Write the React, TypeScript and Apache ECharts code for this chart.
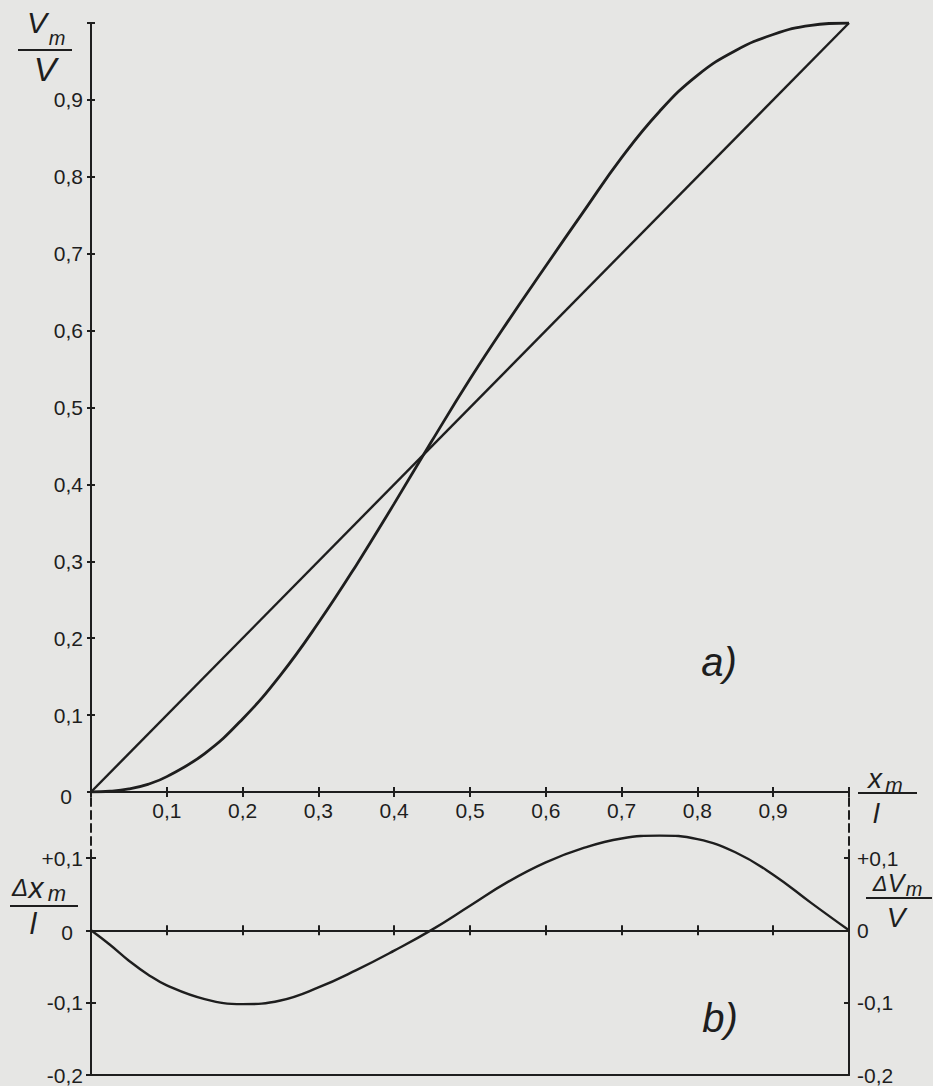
import React, { useEffect, useRef } from "react";
import * as echarts from "echarts";

// ---- data ----
const curveX = [0, 0.025, 0.05, 0.075, 0.1, 0.15, 0.2, 0.25, 0.3, 0.35, 0.4, 0.45, 0.5, 0.55, 0.6, 0.65, 0.7, 0.75, 0.8, 0.85, 0.9, 0.95, 1.0];
const vmCurve = [0, 0.001, 0.004, 0.01, 0.02, 0.05, 0.095, 0.152, 0.22, 0.295, 0.375, 0.457, 0.537, 0.612, 0.684, 0.755, 0.825, 0.885, 0.932, 0.964, 0.985, 0.997, 1.0];
const diagonalX = [0, 1];
const diagonalY = [0, 1];
const deltaCurve = [0, -0.02, -0.042, -0.061, -0.076, -0.095, -0.102, -0.097, -0.079, -0.055, -0.028, 0.001, 0.034, 0.067, 0.094, 0.114, 0.127, 0.131, 0.126, 0.108, 0.077, 0.038, 0];

const xTickLabels = ["", "0,1", "0,2", "0,3", "0,4", "0,5", "0,6", "0,7", "0,8", "0,9", ""];
const yTopTickLabels = ["0", "0,1", "0,2", "0,3", "0,4", "0,5", "0,6", "0,7", "0,8", "0,9", ""];
const yBottomTickLabels = ["-0,2", "-0,1", "0", "+0,1"];

const INK = "#1e1e1e";
const FONT = "Liberation Sans";

export default function App() {
  const ref = useRef<HTMLDivElement>(null);

  useEffect(() => {
    document.body.style.margin = "0";
    const chart = echarts.init(ref.current!, null, { renderer: "svg" });

    const line = { show: true, lineStyle: { color: INK, width: 2 } };
    const noLabel = { show: false };
    const tickOut = (len = 5) => ({ show: true, inside: false, length: len, lineStyle: { color: INK, width: 2 } });
    const tickIn = (len = 5) => ({ show: true, inside: true, length: len, lineStyle: { color: INK, width: 2 } });
    const labelStyle = { color: INK, fontSize: 21, fontFamily: FONT };

    const topX = { type: "value", gridIndex: 0, min: 0, max: 1, interval: 0.1, splitLine: { show: false } };
    const topY = { type: "value", gridIndex: 0, min: 0, max: 1, interval: 0.1, splitLine: { show: false } };
    const botX = { type: "value", gridIndex: 1, min: 0, max: 1, interval: 0.1, splitLine: { show: false } };
    const botY = { type: "value", gridIndex: 1, min: -0.2, max: 0.1, interval: 0.1, splitLine: { show: false } };

    const zeroLabelFmt = (labels: string[]) => (v: number, i: number) => {
      const s = labels[i] ?? "";
      return s === "0" ? "{z|0}" : s;
    };

    const txt = (x: number, y: number, text: string, size: number) => ({
      type: "text", x, y,
      style: { text, font: `italic ${size}px "${FONT}"`, fill: INK, align: "center", verticalAlign: "middle" },
    });
    const bar = (x1: number, x2: number, y: number) => ({
      type: "line", shape: { x1, y1: y, x2, y2: y }, style: { stroke: INK, lineWidth: 2 },
    });

    const option: any = {
      animation: false,
      backgroundColor: "#e6e6e4",
      grid: [
        { left: 91, right: 84, top: 23, height: 769 },
        { left: 91, right: 84, top: 858, height: 217 },
        { left: 91, right: 84, top: 792, height: 66 },
      ],
      xAxis: [
        { ...topX, position: "bottom", axisLine: line, axisTick: tickOut(5),
          axisLabel: { ...labelStyle, margin: 8, formatter: (v: number, i: number) => xTickLabels[i] ?? "" } },
        { ...topX, position: "bottom", axisLine: line, axisTick: tickIn(5), axisLabel: noLabel },
        { ...topX, position: "top", axisLine: line, axisTick: tickIn(4), axisLabel: noLabel },
        { ...topX, position: "top", axisLine: line, axisTick: tickOut(4), axisLabel: noLabel },
        { ...botX, position: "bottom", axisLine: { ...line, onZero: true, onZeroAxisIndex: 4 }, axisTick: tickOut(5), axisLabel: noLabel },
        { ...botX, position: "bottom", axisLine: { ...line, onZero: true, onZeroAxisIndex: 4 }, axisTick: tickIn(5), axisLabel: noLabel },
        { ...botX, position: "bottom", axisLine: { ...line, onZero: false }, axisTick: { show: false }, axisLabel: noLabel },
        { type: "value", gridIndex: 2, min: 0, max: 1, show: false },
      ],
      yAxis: [
        { ...topY, position: "left", axisLine: line, axisTick: tickOut(4),
          axisLabel: { ...labelStyle, margin: 8, formatter: zeroLabelFmt(yTopTickLabels),
            rich: { z: { ...labelStyle, padding: [8, 11, 0, 0] } } } },
        { ...topY, position: "left", axisLine: line, axisTick: tickIn(4), axisLabel: noLabel },
        { ...topY, position: "right", axisLine: line, axisTick: tickOut(4), axisLabel: noLabel },
        { ...topY, position: "right", axisLine: line, axisTick: tickIn(4), axisLabel: noLabel },
        { ...botY, position: "left", axisLine: line, axisTick: tickOut(5),
          axisLabel: { ...labelStyle, margin: 8, formatter: zeroLabelFmt(yBottomTickLabels),
            rich: { z: { ...labelStyle, padding: [4, 10, 0, 0] } } } },
        { ...botY, position: "left", axisLine: line, axisTick: tickIn(5), axisLabel: noLabel },
        { ...botY, position: "right", axisLine: line, axisTick: tickOut(5),
          axisLabel: { ...labelStyle, margin: 8, formatter: (v: number, i: number) => yBottomTickLabels[i] ?? "" } },
        { ...botY, position: "right", axisLine: line, axisTick: tickIn(5), axisLabel: noLabel },
        { type: "value", gridIndex: 2, min: 0, max: 1, position: "left", splitLine: { show: false },
          axisLine: { show: true, lineStyle: { color: INK, width: 2, type: [8, 5] } }, axisTick: { show: false }, axisLabel: noLabel },
        { type: "value", gridIndex: 2, min: 0, max: 1, position: "right", splitLine: { show: false },
          axisLine: { show: true, lineStyle: { color: INK, width: 2, type: [8, 5] } }, axisTick: { show: false }, axisLabel: noLabel },
      ],
      series: [
        { type: "line", xAxisIndex: 0, yAxisIndex: 0, showSymbol: false, symbol: "none",
          data: diagonalX.map((x, i) => [x, diagonalY[i]]), lineStyle: { color: INK, width: 2.4 } },
        { type: "line", xAxisIndex: 0, yAxisIndex: 0, showSymbol: false, symbol: "none", smooth: 0.45,
          data: curveX.map((x, i) => [x, vmCurve[i]]), lineStyle: { color: INK, width: 2.8 } },
        { type: "line", xAxisIndex: 4, yAxisIndex: 4, showSymbol: false, symbol: "none", smooth: 0.45, clip: false,
          data: curveX.map((x, i) => [x, deltaCurve[i]]), lineStyle: { color: INK, width: 2.4 } },
      ],
      graphic: [
        // V_m / V (top-left)
        txt(37, 22, "V", 30),
        txt(57, 38, "m", 20),
        bar(18, 72, 50),
        txt(45, 69, "V", 34),
        // x_m / l (right, top panel)
        txt(875, 778, "x", 28),
        txt(894, 784, "m", 21),
        bar(858, 917, 793),
        txt(876, 813, "l", 28),
        // ΔV_m / V (right, bottom panel)
        txt(880, 883, "Δ", 22),
        txt(896, 883, "V", 25),
        txt(914, 889, "m", 20),
        bar(866, 932, 898),
        txt(896, 917, "V", 28),
        // Δx_m / l (left, bottom panel)
        txt(20, 887, "Δ", 24),
        txt(36, 887, "x", 30),
        txt(57, 893, "m", 22),
        bar(10, 78, 906),
        txt(33, 923, "l", 30),
        // panel letters
        txt(719, 662, "a)", 40),
        txt(720, 1018, "b)", 40),
      ],
    };

    chart.setOption(option);
    return () => chart.dispose();
  }, []);

  return <div ref={ref} style={{ width: 933, height: 1086 }} />;
}
